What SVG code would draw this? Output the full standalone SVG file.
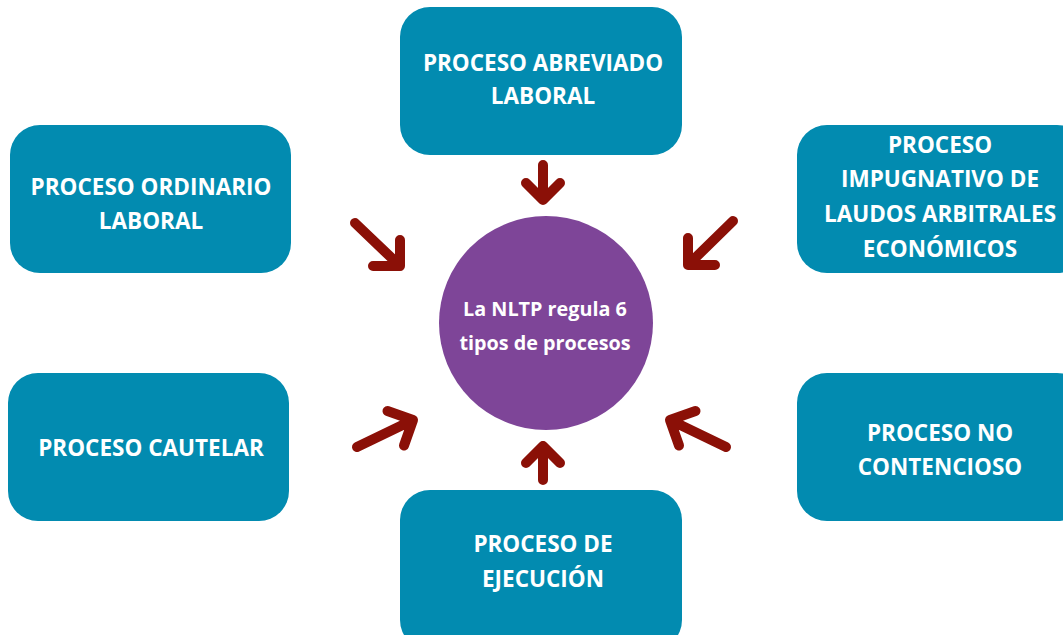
<svg xmlns="http://www.w3.org/2000/svg" width="1063" height="635" viewBox="0 0 1063 635">
<style>
.box{fill:#028bb0}
.bt{fill:#ffffff;font-family:"Open Sans","Liberation Sans",sans-serif;font-weight:700;font-size:22.5px;text-anchor:middle}
.ct{fill:#ffffff;font-family:"Open Sans","Liberation Sans",sans-serif;font-weight:700;font-size:19.8px;text-anchor:middle}
.arr{fill:none;stroke:#8b1007;stroke-width:10;stroke-linecap:round;stroke-linejoin:round}
</style>
<rect width="1063" height="635" fill="#ffffff"/>
<g id="center">
<circle cx="546" cy="323" r="107" fill="#7e4598"/>
<text class="ct" x="545" y="316">La NLTP regula 6</text>
<text class="ct" x="545" y="350">tipos de procesos</text>
</g>
<g id="abreviado">
<rect class="box" x="400" y="7" width="282" height="148" rx="30"/>
<text class="bt" x="543" y="71">PROCESO ABREVIADO</text>
<text class="bt" x="543" y="104">LABORAL</text>
</g>
<g id="ordinario">
<rect class="box" x="10" y="125" width="281" height="148" rx="30"/>
<text class="bt" x="151" y="195">PROCESO ORDINARIO</text>
<text class="bt" x="151" y="229">LABORAL</text>
</g>
<g id="impugnativo">
<rect class="box" x="797" y="125" width="290" height="148" rx="30"/>
<text class="bt" x="940" y="153">PROCESO</text>
<text class="bt" x="940" y="187">IMPUGNATIVO DE</text>
<text class="bt" x="940" y="222">LAUDOS ARBITRALES</text>
<text class="bt" x="940" y="257">ECONÓMICOS</text>
</g>
<g id="cautelar">
<rect class="box" x="8" y="373" width="281" height="148" rx="30"/>
<text class="bt" x="151" y="456">PROCESO CAUTELAR</text>
</g>
<g id="nocontencioso">
<rect class="box" x="797" y="373" width="290" height="148" rx="30"/>
<text class="bt" x="940" y="441">PROCESO NO</text>
<text class="bt" x="940" y="475">CONTENCIOSO</text>
</g>
<g id="ejecucion">
<rect class="box" x="400" y="490" width="282" height="160" rx="30"/>
<text class="bt" x="543" y="552">PROCESO DE</text>
<text class="bt" x="543" y="587">EJECUCIÓN</text>
</g>
<g id="connectors">
<path class="arr" d="M543 165 L543 200 M526 183 L543 200 L560 183"/>
<path class="arr" d="M355 223 L400 266 M400 240 L400 266 L373 266"/>
<path class="arr" d="M733 221 L688 265 M688 238 L688 265 L715 265"/>
<path class="arr" d="M357 447 L413 420 M387.5 411 L413 420 L404 445.5"/>
<path class="arr" d="M726 447 L670 420 M695.5 411 L670 420 L679 445.5"/>
<path class="arr" d="M543 480 L543 446 M526 463 L543 446 L560 463"/>
</g>
</svg>
